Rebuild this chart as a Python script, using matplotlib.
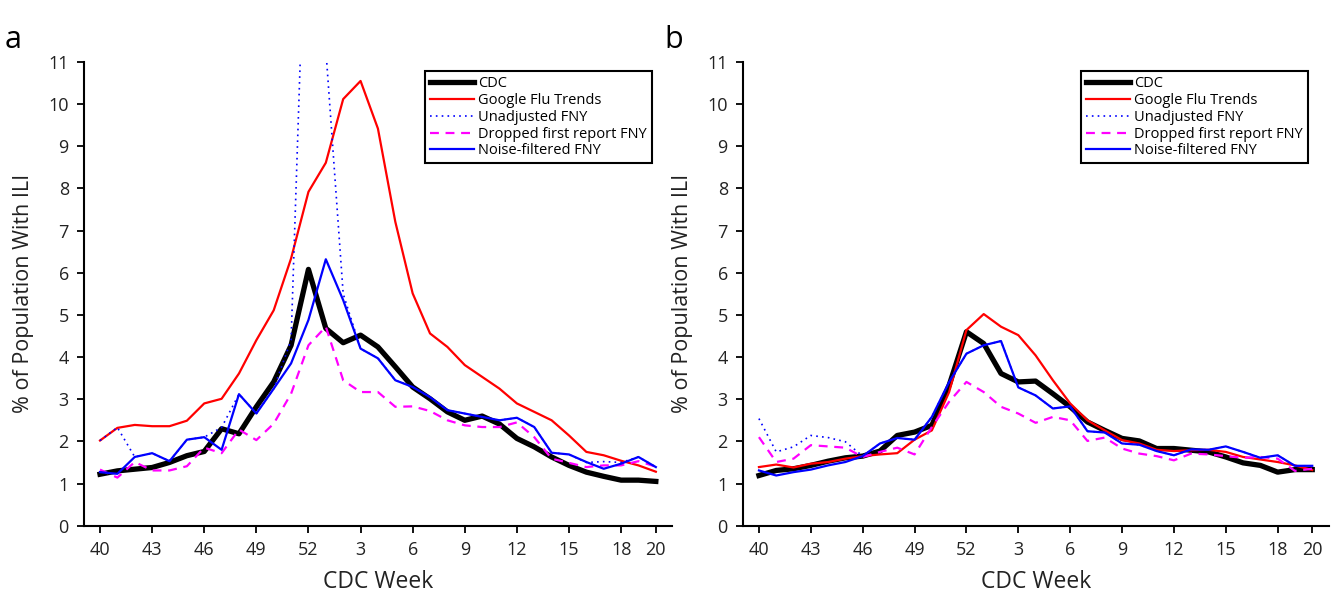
import matplotlib
matplotlib.use("Agg")
import matplotlib.pyplot as plt
import numpy as np

plt.rcParams['font.family'] = ['Open Sans', 'DejaVu Sans']

# CDC weeks 40..52 then 1..20
weeks = list(range(40, 53)) + list(range(1, 21))
tick_weeks = [40, 43, 46, 49, 52, 3, 6, 9, 12, 15, 18, 20]

# panel a
cdc_a = [1.22, 1.30, 1.34, 1.38, 1.50, 1.66, 1.76, 2.30, 2.18, 2.82, 3.41, 4.28, 6.08, 4.68, 4.34, 4.52, 4.24,
         3.77, 3.29, 3.01, 2.70, 2.50, 2.60, 2.41, 2.07, 1.87, 1.63, 1.43, 1.27, 1.17, 1.08, 1.08, 1.05]
gft_a = [2.02, 2.32, 2.39, 2.36, 2.36, 2.49, 2.90, 3.01, 3.61, 4.40, 5.11, 6.34, 7.92, 8.61, 10.12, 10.55, 9.42,
         7.21, 5.51, 4.56, 4.24, 3.81, 3.53, 3.25, 2.90, 2.70, 2.50, 2.14, 1.75, 1.67, 1.54, 1.43, 1.28]
unadj_a = [2.02, 2.33, 1.63, 1.72, 1.53, 2.04, 2.10, 2.33, 3.12, 2.66, 3.25, 4.40, 17.0, 11.3, 5.50, 4.20, 3.97,
           3.45, 3.29, 3.05, 2.74, 2.66, 2.58, 2.50, 2.56, 2.34, 1.73, 1.69, 1.50, 1.52, 1.50, 1.63, 1.39]
drop_a = [1.33, 1.14, 1.51, 1.31, 1.31, 1.41, 1.85, 1.72, 2.28, 2.03, 2.42, 3.13, 4.28, 4.72, 3.45, 3.17, 3.17,
          2.82, 2.83, 2.72, 2.50, 2.38, 2.34, 2.34, 2.45, 2.10, 1.59, 1.49, 1.39, 1.43, 1.43, 1.53, 1.40]
nf_a = [1.27, 1.23, 1.63, 1.72, 1.53, 2.04, 2.10, 1.80, 3.12, 2.66, 3.25, 3.85, 4.88, 6.32, 5.35, 4.20, 3.97,
        3.45, 3.29, 3.05, 2.74, 2.66, 2.58, 2.50, 2.56, 2.34, 1.73, 1.69, 1.51, 1.35, 1.47, 1.63, 1.39]

# panel b
cdc_b = [1.19, 1.31, 1.35, 1.43, 1.53, 1.61, 1.65, 1.77, 2.14, 2.22, 2.38, 3.33, 4.60, 4.32, 3.61, 3.41, 3.43,
         3.13, 2.82, 2.46, 2.26, 2.07, 2.01, 1.83, 1.83, 1.79, 1.75, 1.63, 1.49, 1.43, 1.27, 1.33, 1.33]
gft_b = [1.39, 1.45, 1.38, 1.47, 1.51, 1.59, 1.65, 1.69, 1.72, 2.04, 2.26, 3.17, 4.64, 5.02, 4.72, 4.52, 4.04,
         3.45, 2.90, 2.50, 2.26, 2.03, 1.95, 1.80, 1.77, 1.79, 1.80, 1.75, 1.63, 1.57, 1.51, 1.43, 1.32]
unadj_b = [2.54, 1.75, 1.87, 2.14, 2.09, 1.99, 1.65, 1.95, 2.08, 2.04, 2.58, 3.41, 4.08, 4.28, 4.38, 3.28, 3.09,
           2.78, 2.83, 2.24, 2.21, 1.95, 1.92, 1.77, 1.67, 1.81, 1.80, 1.88, 1.75, 1.61, 1.67, 1.42, 1.42]
drop_b = [2.10, 1.51, 1.59, 1.91, 1.88, 1.85, 1.63, 1.75, 1.85, 1.69, 2.34, 2.94, 3.41, 3.17, 2.82, 2.66, 2.44,
          2.58, 2.50, 2.01, 2.09, 1.83, 1.71, 1.65, 1.55, 1.71, 1.69, 1.65, 1.61, 1.63, 1.59, 1.30, 1.35]
nf_b = [1.31, 1.19, 1.27, 1.33, 1.43, 1.51, 1.65, 1.95, 2.08, 2.04, 2.58, 3.41, 4.08, 4.28, 4.38, 3.28, 3.09,
        2.78, 2.83, 2.24, 2.21, 1.95, 1.92, 1.77, 1.67, 1.81, 1.80, 1.88, 1.75, 1.61, 1.67, 1.42, 1.42]


def draw_panel(ax, cdc, gft, unadj, drop, nf, letter):
    x = np.arange(len(weeks))
    ax.plot(x, cdc, color='black', linewidth=3.8, label='CDC')
    ax.plot(x, gft, color='red', linewidth=1.6, label='Google Flu Trends')
    ax.plot(x, unadj, color='blue', linestyle=(0, (1, 2.5)), linewidth=1.2, label='Unadjusted FNY')
    ax.plot(x, drop, color='magenta', linestyle=(0, (4, 3)), linewidth=1.6, label='Dropped first report FNY')
    ax.plot(x, nf, color='blue', linewidth=1.6, label='Noise-filtered FNY')

    ax.set_xlim(-0.92, 32.95)
    ax.set_ylim(0, 11)
    ax.set_yticks(range(0, 12))
    ax.set_xticks([weeks.index(w) for w in tick_weeks])
    ax.set_xticklabels([str(w) for w in tick_weeks])
    ax.tick_params(direction='out', length=5, width=1.3, labelsize=13, pad=6, colors='black',
                   labelcolor='#222222')
    for s in ['top', 'right']:
        ax.spines[s].set_visible(False)
    for s in ['left', 'bottom']:
        ax.spines[s].set_linewidth(1.5)

    ax.set_xlabel('CDC Week', fontsize=16.5, color='#222222', labelpad=8)
    ax.set_ylabel('% of Population With ILI', fontsize=15.5, color='#222222', labelpad=10)

    leg = ax.legend(loc='upper right', bbox_to_anchor=(0.965, 0.98), borderaxespad=0, fontsize=10.5,
                    fancybox=False, framealpha=1, edgecolor='black', handlelength=3.0,
                    handletextpad=0.3, labelspacing=0.12, borderpad=0.35)
    leg.get_frame().set_linewidth(1.5)

    ax.text(-0.135, 1.08, letter, transform=ax.transAxes, fontsize=22, va='top', ha='left')


fig = plt.figure(figsize=(13.34, 5.96), dpi=100)
ax_a = fig.add_axes([0.063, 0.118, 0.441, 0.778])
ax_b = fig.add_axes([0.557, 0.118, 0.439, 0.778])

draw_panel(ax_a, cdc_a, gft_a, unadj_a, drop_a, nf_a, 'a')
draw_panel(ax_b, cdc_b, gft_b, unadj_b, drop_b, nf_b, 'b')

fig.savefig('out.png', dpi=100)
